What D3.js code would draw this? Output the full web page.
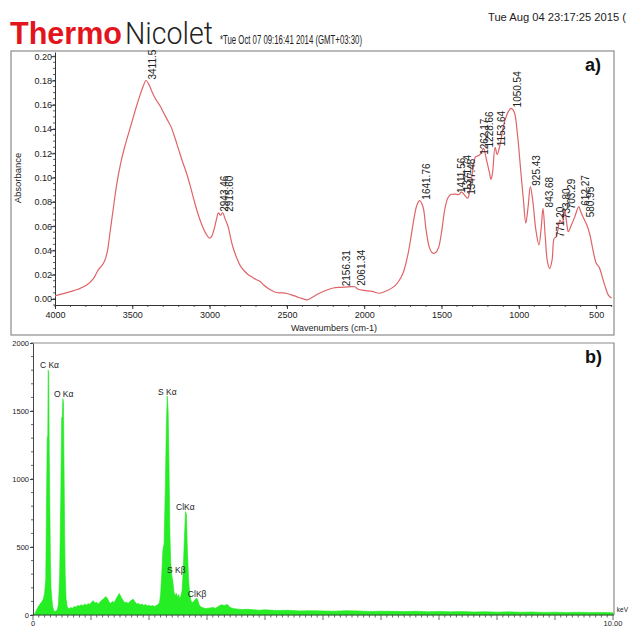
<!DOCTYPE html>
<html><head><meta charset="utf-8">
<script src="https://cdn.jsdelivr.net/npm/d3@7/dist/d3.min.js"></script>
<style>html,body{margin:0;padding:0;background:#fff;overflow:hidden}svg{display:block;font-family:"Liberation Sans",Arial,sans-serif}</style>
</head><body><svg id="c" width="629" height="627"></svg>
<script>
// ---------- FTIR (panel a) ----------
const ftirWavenumber = [4000,3900,3850,3800,3750,3720,3700,3680,3660,3650,3630,3600,3575,3550,3525,3500,3475,3450,3430,3411.5,3390,3370,3350,3320,3300,3275,3250,3225,3200,3175,3150,3125,3100,3075,3050,3025,3000,2985,2970,2955,2943.46,2930,2915.6,2900,2880,2865,2850,2825,2800,2775,2750,2725,2700,2675,2650,2625,2600,2575,2550,2525,2500,2475,2450,2425,2400,2370,2340,2300,2250,2200,2156.31,2100,2061.34,2040,2000,1950,1900,1850,1800,1775,1750,1735,1720,1700,1680,1660,1641.76,1620,1600,1580,1560,1540,1520,1500,1480,1460,1440,1411.56,1390,1371.74,1360,1347.48,1330,1317,1300,1280,1262.17,1245,1228.66,1210,1190,1180,1170,1153.64,1140,1125,1100,1080,1065,1050.54,1030,1010,990,970,955,940,925.43,910,890,870,855,843.68,830,815,800,785,771.2,760,750,733.8,720,703.29,690,680,660,640,612.27,600,580.95,560,540,520,500,480,460,440,420,400];
const ftirAbsorbance = [0.0025,0.006,0.008,0.011,0.017,0.024,0.027,0.031,0.040,0.049,0.068,0.095,0.112,0.125,0.136,0.147,0.158,0.168,0.175,0.180,0.176,0.170,0.165,0.159,0.154,0.148,0.142,0.133,0.123,0.113,0.104,0.093,0.081,0.070,0.061,0.054,0.050,0.052,0.058,0.066,0.071,0.069,0.071,0.066,0.0595,0.051,0.043,0.034,0.027,0.023,0.020,0.018,0.016,0.0145,0.0115,0.009,0.007,0.0055,0.005,0.005,0.0045,0.0035,0.0025,0.0012,0.0003,-0.0008,0.001,0.004,0.007,0.009,0.0096,0.010,0.010,0.008,0.007,0.0062,0.0047,0.007,0.011,0.015,0.021,0.027,0.035,0.049,0.065,0.077,0.081,0.076,0.057,0.043,0.038,0.038,0.042,0.055,0.073,0.083,0.086,0.0864,0.086,0.088,0.087,0.085,0.083,0.090,0.104,0.117,0.118,0.120,0.124,0.115,0.104,0.0985,0.104,0.125,0.119,0.125,0.142,0.151,0.155,0.157,0.154,0.137,0.109,0.081,0.0625,0.076,0.0925,0.081,0.057,0.0445,0.059,0.0746,0.053,0.0307,0.025,0.032,0.050,0.051,0.055,0.065,0.062,0.073,0.062,0.0554,0.061,0.067,0.076,0.072,0.0664,0.061,0.0527,0.040,0.0296,0.026,0.018,0.0096,0.003,0.0008];
const ftirPeakLabels = ["3411.5","2943.46","2915.60","2156.31","2061.34","1641.76","1411.56","1371.74","1347.48","1262.17","1228.66","1153.64","1050.54","925.43","843.68","771.20","733.80","703.29","612.27","580.95"];
const ftirPeakWavenumber = [3411.5,2943.46,2915.6,2156.31,2061.34,1641.76,1411.56,1371.74,1347.48,1262.17,1228.66,1153.64,1050.54,925.43,843.68,771.2,733.8,703.29,612.27,580.95];
const ftirPeakAbsorbance = [0.180,0.071,0.071,0.0096,0.010,0.081,0.0864,0.088,0.085,0.118,0.124,0.125,0.157,0.0925,0.0746,0.050,0.065,0.073,0.076,0.0664];
const ftirXTicks = [4000,3500,3000,2500,2000,1500,1000,500];
const ftirYTicks = [0,0.02,0.04,0.06,0.08,0.10,0.12,0.14,0.16,0.18,0.20];

// ---------- EDS (panel b) ----------
const edsEnergy = [0,0.03,0.06,0.09,0.12,0.15,0.18,0.20,0.22,0.235,0.245,0.255,0.262,0.27,0.28,0.29,0.30,0.31,0.325,0.34,0.36,0.38,0.40,0.42,0.44,0.46,0.48,0.495,0.505,0.515,0.525,0.535,0.545,0.555,0.57,0.59,0.62,0.65,0.68,0.71,0.74,0.77,0.80,0.83,0.86,0.89,0.92,0.95,0.98,1.01,1.04,1.07,1.10,1.13,1.16,1.19,1.22,1.25,1.28,1.31,1.34,1.37,1.40,1.43,1.46,1.49,1.52,1.55,1.58,1.61,1.64,1.67,1.70,1.73,1.76,1.79,1.82,1.85,1.88,1.91,1.94,1.97,2.00,2.03,2.06,2.09,2.12,2.15,2.18,2.20,2.22,2.24,2.26,2.28,2.30,2.315,2.33,2.345,2.36,2.375,2.39,2.41,2.43,2.45,2.47,2.49,2.51,2.53,2.55,2.57,2.59,2.61,2.63,2.645,2.66,2.68,2.70,2.72,2.74,2.76,2.78,2.80,2.82,2.84,2.86,2.89,2.92,2.95,3.00,3.05,3.10,3.15,3.20,3.25,3.30,3.35,3.40,3.45,3.50,3.6,3.7,3.8,3.9,4.0,4.2,4.4,4.6,4.8,5.0,5.2,5.4,5.6,5.8,6.0,6.2,6.4,6.6,6.8,7.0,7.2,7.4,7.6,7.8,8.0,8.2,8.4,8.6,8.8,9.0,9.2,9.4,9.6,9.8,10.0];
const edsCounts = [0,10,35,60,80,95,120,160,260,900,1300,1320,1800,1780,1200,800,400,200,120,60,30,25,30,40,80,300,900,1450,1460,1590,1560,1100,600,300,120,60,45,55,50,62,58,70,66,75,68,80,72,85,78,95,105,88,92,80,98,110,120,135,125,95,85,100,92,115,140,158,130,110,90,95,85,100,110,115,95,80,85,75,80,70,78,68,72,65,70,62,68,75,90,150,300,480,520,900,1400,1610,1500,1100,600,380,300,250,170,140,160,130,150,120,140,180,320,560,760,740,500,280,160,110,90,95,105,115,125,110,80,60,55,50,48,52,55,50,65,75,70,78,55,48,45,40,42,38,35,38,33,35,30,32,30,28,32,30,26,28,27,25,28,24,26,23,25,22,24,21,23,20,22,19,21,18,20,18,19,17];
const edsLineNames = ["C K\u03b1","O K\u03b1","S K\u03b1","ClK\u03b1","S K\u03b2","ClK\u03b2"];
const edsLineEnergy = [0.12,0.36,2.155,2.466,2.31,2.67];
const edsLineCounts = [1816,1603,1618,772,309,132];
const edsYTicks = [0,500,1000,1500,2000];
const edsXTicks = [0,10];

const svg = d3.select("#c");
const frameCol = "#8c8c8c";

// ---------- header ----------
svg.append("text").attr("x",10).attr("y",44).attr("fill","#e3141c").attr("font-weight","bold")
  .attr("font-size",31).attr("textLength",112).attr("lengthAdjust","spacingAndGlyphs").text("Thermo");
svg.append("text").attr("x",125).attr("y",44).attr("fill","#222").attr("font-weight",300)
  .attr("font-family","Roboto, 'Liberation Sans Narrow', sans-serif")
  .attr("font-size",31).attr("textLength",88).attr("lengthAdjust","spacingAndGlyphs").text("Nicolet");
svg.append("text").attr("x",220).attr("y",44).attr("fill","#222")
  .attr("font-size",13).attr("textLength",142).attr("lengthAdjust","spacingAndGlyphs").text("*Tue Oct 07 09:16:41 2014 (GMT+03:30)");
svg.append("text").attr("x",488).attr("y",21).attr("fill","#222")
  .attr("font-size",11).attr("textLength",138).attr("lengthAdjust","spacingAndGlyphs").text("Tue Aug 04 23:17:25 2015 (");

// ---------- panel a ----------
const xA = d3.scaleLinear().domain([4000,400]).range([55,611.6]);
const yA = d3.scaleLinear().domain([-0.005,0.2035]).range([305,52]);

svg.append("rect").attr("x",11).attr("y",51).attr("width",603).attr("height",284)
  .attr("fill","none").attr("stroke",frameCol).attr("stroke-width",1.2);

const gA = svg.append("g");
gA.append("g").selectAll("line").data(d3.range(-0.005,0.2026,0.005)).join("line")
  .attr("x1",53).attr("x2",55).attr("y1",d=>yA(d)).attr("y2",d=>yA(d)).attr("stroke","#333").attr("stroke-width",0.8);
gA.append("g").selectAll("line").data(d3.range(4000,399,-100)).join("line")
  .attr("x1",d=>xA(d)).attr("x2",d=>xA(d)).attr("y1",305).attr("y2",307).attr("stroke","#333").attr("stroke-width",0.8);

const yAxisA = gA.append("g").attr("transform","translate(55,0)")
  .call(d3.axisLeft(yA).tickValues(ftirYTicks).tickFormat(d3.format(".2f")).tickSize(4).tickSizeOuter(0));
const xAxisA = gA.append("g").attr("transform","translate(0,305)")
  .call(d3.axisBottom(xA).tickValues(ftirXTicks).tickFormat(d3.format("d")).tickSize(4).tickSizeOuter(0));
[yAxisA,xAxisA].forEach(g=>{
  g.selectAll("text").attr("font-size",9).attr("fill","#222").attr("font-family","'Liberation Sans',Arial,sans-serif");
  g.select(".domain").attr("stroke","#333");
  g.selectAll(".tick line").attr("stroke","#333");
});
yAxisA.selectAll("text").attr("x",-3);
xAxisA.selectAll("text").attr("y",7);

gA.append("text").attr("transform","translate(21,178) rotate(-90)").attr("text-anchor","middle")
  .attr("font-size",9.5).attr("fill","#222").text("Absorbance");
gA.append("text").attr("x",334).attr("y",331).attr("text-anchor","middle")
  .attr("font-size",9).attr("fill","#222").text("Wavenumbers (cm-1)");

const lineA = d3.line().x((d,i)=>xA(ftirWavenumber[i])).y((d,i)=>yA(ftirAbsorbance[i])).curve(d3.curveCatmullRom.alpha(0.5));
gA.append("path").datum(ftirAbsorbance).attr("d",lineA).attr("fill","none")
  .attr("stroke","#df6468").attr("stroke-width",1.2);

gA.append("g").selectAll("text").data(ftirPeakLabels).join("text")
  .attr("transform",(d,i)=>`translate(${xA(ftirPeakWavenumber[i])+10},${yA(ftirPeakAbsorbance[i])-1}) rotate(-90)`)
  .attr("font-size",10).attr("fill","#222").text(d=>d);

svg.append("text").attr("x",585).attr("y",71).attr("font-weight","bold").attr("font-size",18).attr("fill","#111").text("a)");

// ---------- panel b ----------
const xB = d3.scaleLinear().domain([0,10]).range([33,613]);
const yB = d3.scaleLinear().domain([0,2000]).range([615,343]);

svg.append("path").attr("d",`M33,343H614V615`).attr("fill","none").attr("stroke",frameCol).attr("stroke-width",1.2);

const areaB = d3.area().x((d,i)=>xB(edsEnergy[i])).y0(yB(0)).y1((d,i)=>yB(edsCounts[i]));
svg.append("path").datum(edsCounts).attr("d",areaB).attr("fill","#25ee25").attr("stroke","#1ee61e").attr("stroke-width",0.6);

const gB = svg.append("g");
gB.append("g").selectAll("line").data(d3.range(0,2001,100)).join("line")
  .attr("x1",31).attr("x2",33).attr("y1",d=>yB(d)).attr("y2",d=>yB(d)).attr("stroke","#444").attr("stroke-width",0.8);
gB.append("g").selectAll("line").data(d3.range(0,100.5,1)).join("line")
  .attr("x1",d=>xB(d/10)).attr("x2",d=>xB(d/10)).attr("y1",615).attr("y2",d=>d%10===0?620:617.5).attr("stroke","#444").attr("stroke-width",0.8);
const yAxisB = gB.append("g").attr("transform","translate(33,0)")
  .call(d3.axisLeft(yB).tickValues(edsYTicks).tickFormat(d3.format("d")).tickSize(3).tickSizeOuter(0));
yAxisB.selectAll("text").attr("font-size",7.5).attr("fill","#222").attr("x",-4).attr("font-family","'Liberation Sans',Arial,sans-serif");
yAxisB.select(".domain").attr("stroke","#444");
yAxisB.selectAll(".tick line").attr("stroke","#444");
gB.append("line").attr("x1",33).attr("x2",614).attr("y1",615).attr("y2",615).attr("stroke","#444");
gB.append("g").selectAll("text").data(edsXTicks).join("text")
  .attr("x",d=>xB(d)).attr("y",626).attr("text-anchor","middle").attr("font-size",7.5).attr("fill","#222")
  .text(d=>d===0?"0":d3.format(".2f")(d));
gB.append("text").attr("x",628).attr("y",612).attr("text-anchor","end").attr("font-size",6.5).attr("fill","#222").text("keV");

gB.append("g").selectAll("text").data(edsLineNames).join("text")
  .attr("x",(d,i)=>xB(edsLineEnergy[i])).attr("y",(d,i)=>yB(edsLineCounts[i]))
  .attr("font-size",8.5).attr("fill","#222").text(d=>d);

svg.append("text").attr("x",585).attr("y",363).attr("font-weight","bold").attr("font-size",18).attr("fill","#111").text("b)");
</script></body></html>
